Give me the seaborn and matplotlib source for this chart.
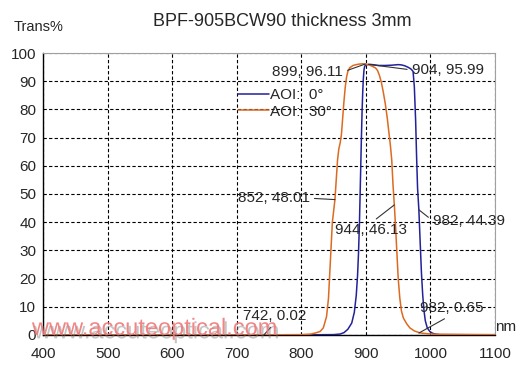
import numpy as np
import pandas as pd
import matplotlib
matplotlib.use("Agg")
import matplotlib.pyplot as plt
import matplotlib.patheffects as pe
import seaborn as sns

# AOI 0 deg (blue)
wl_0 = [400, 500, 600, 700, 800, 850, 860, 866, 872, 878, 882, 885, 887, 888.5,
        890, 891, 892, 893, 894, 895, 896, 897, 898, 900, 905, 910, 920, 930,
        940, 950, 955, 960, 965, 968, 970, 973, 975, 977, 978.5, 980, 982, 984,
        986, 988, 990, 992, 995, 999, 1003, 1007, 1015, 1100]
tr_0 = [0, 0, 0, 0, 0.02, 0.1, 0.3, 0.8, 2.0, 4.2, 8, 14, 21, 29,
        40, 50, 60, 70, 79, 86, 91, 94, 95.3, 95.8, 96.0, 95.9, 95.6, 95.6,
        95.7, 95.9, 95.8, 95.5, 95.0, 94.6, 94.3, 93.5, 88, 76, 63, 52, 44.39, 33,
        22, 14, 8.5, 5, 2.5, 1.2, 0.6, 0.3, 0.1, 0]

# AOI 30 deg (orange)
wl_30 = [400, 500, 600, 700, 742, 800, 815, 822, 829, 834, 839, 842, 844, 846,
         848, 850, 852, 854, 856, 858, 860, 862, 864, 866, 868, 870, 872, 875,
         880, 885, 890, 895, 899, 905, 910, 915, 918, 921, 924, 927, 930, 933,
         936, 938, 940, 942, 944, 946, 948, 950, 952.5, 955, 958, 963, 968, 975,
         984, 995, 1010, 1100]
tr_30 = [0, 0, 0, 0, 0.02, 0.1, 0.3, 0.7, 1.2, 2.5, 6.5, 13, 22, 31,
         40, 44, 48.01, 55, 62, 66, 68, 71, 77, 83, 88, 91.5, 93.5, 94.8,
         95.6, 95.9, 96.1, 96.2, 96.11, 95.8, 95.3, 94.7, 93.8, 92, 89.5, 86, 82, 77,
         71, 67, 62, 53, 46.13, 38, 29, 20, 13, 8.5, 6, 4.0, 2.5, 1.4,
         0.7, 0.4, 0.2, 0.1]

series_labels = ["AOI:  0°", "AOI:  30°"]
series_colors = ["#22229a", "#dd6a20"]

# labels: (text, point x, point y, text x, text y, ha, va, relpos)
notes = [
    ("899, 96.11", 899, 96.11, 864.5, 93.3, "right", "center", (1, 0.5)),
    ("904, 95.99", 904, 95.99, 971, 94.0, "left", "center", (0, 0.5)),
    ("852, 48.01", 852, 48.01, 813, 48.5, "right", "center", (1, 0.5)),
    ("944, 46.13", 944, 46.13, 852, 37.2, "left", "center", (0.5, 1)),
    ("982, 44.39", 982, 44.39, 1003.5, 40.5, "left", "center", (0, 0.5)),
    ("742, 0.02", 742, 0.02, 709.5, 6.7, "left", "center", (0.5, 0)),
    ("982, 0.65", 982, 0.65, 983.5, 9.6, "left", "center", (0.5, 0)),
]

sns.set_style("white")
plt.rcParams["font.family"] = ["Liberation Sans", "DejaVu Sans"]

df = pd.concat([
    pd.DataFrame({"nm": wl_0, "T": tr_0, "AOI": series_labels[0]}),
    pd.DataFrame({"nm": wl_30, "T": tr_30, "AOI": series_labels[1]}),
])

fig = plt.figure(figsize=(5.2, 3.66), dpi=100)
ax = fig.add_axes([0.083, 0.085, 0.869, 0.770])

sns.lineplot(data=df, x="nm", y="T", hue="AOI", palette=series_colors,
             hue_order=series_labels, sort=False, estimator=None,
             linewidth=1.1, ax=ax, zorder=3)

ax.set_xlim(400, 1100)
ax.set_ylim(0, 100)
ax.set_xticks(np.arange(400, 1101, 100))
ax.set_yticks(np.arange(0, 101, 10))
ax.grid(True, color="black", linestyle=(0, (3, 2)), linewidth=0.8)
ax.set_axisbelow(True)
ax.tick_params(axis="both", labelsize=11, length=0)
ax.tick_params(axis="x", pad=9)
ax.tick_params(axis="y", pad=5)
ax.set_xlabel("")
ax.set_ylabel("")
for s in ["top", "right"]:
    ax.spines[s].set_color("#a0a0a0")
for s in ["left", "bottom"]:
    ax.spines[s].set_color("black")
    ax.spines[s].set_linewidth(1.0)

leg = ax.legend(loc="upper left", bbox_to_anchor=(0.432, 0.875), frameon=False,
                fontsize=11, handlelength=2.0, handletextpad=0.1,
                labelspacing=0.15, borderpad=0, borderaxespad=0)

for txt, px, py, tx, ty, ha, va, rp in notes:
    ax.annotate(txt, xy=(px, py), xytext=(tx, ty), ha=ha, va=va, fontsize=11,
                arrowprops=dict(arrowstyle="-", color="#333333", lw=0.8,
                                relpos=rp, shrinkA=1, shrinkB=0), zorder=4)

fig.text(0.543, 0.94, "BPF-905BCW90 thickness 3mm", ha="center", va="center",
         fontsize=13)
fig.text(0.027, 0.926, "Trans%", ha="left", va="center", fontsize=10.5)
fig.text(0.952, 0.107, "nm", ha="left", va="center", fontsize=11)

fig.text(0.0615, 0.085, "www.accuteoptical.com", ha="left", va="baseline",
         fontsize=17, color="#f07878", alpha=0.9,
         path_effects=[pe.SimplePatchShadow(offset=(1.5, -2.5),
                                            shadow_rgbFace="#808080", alpha=0.45),
                       pe.Normal()])

fig.savefig("out.png", dpi=100)
